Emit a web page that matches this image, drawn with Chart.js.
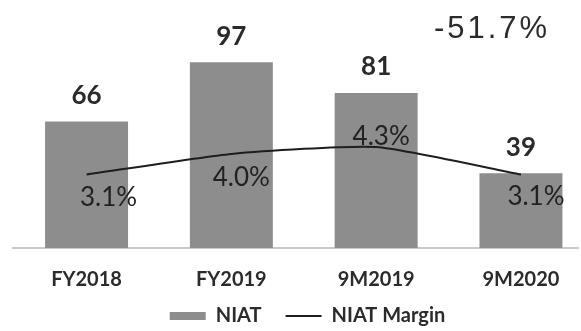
<!DOCTYPE html>
<html lang="en">
<head>
    <meta charset="utf-8" />
    <title>NIAT and NIAT Margin</title>
    <script src="https://cdn.jsdelivr.net/npm/chart.js@4.4.0/dist/chart.umd.min.js"></script>
    <style>
        html, body {
            margin: 0;
            padding: 0;
            background: #fff;
            overflow: hidden;
        }

        #wrap {
            position: relative;
            width: 581px;
            height: 336px;
        }
    </style>
</head>
<body>
    <div id="wrap">
        <canvas id="niatChart"></canvas>
    </div>

    <script>
        var periods = ["FY2018", "FY2019", "9M2019", "9M2020"];
        var niat = [66, 97, 81, 39];
        var niatMargin = [3.1, 4.0, 4.3, 3.1];
        var changeLabel = "-51.7%";

        // where each margin label sits relative to its point (px)
        var marginLabelShift = [[22, 23], [10, 24], [5, -10], [15, 22]];

        var textColor = "#2b2b2b";

        // writes the bar values, the margin % and the change figure
        var valueLabels = {
            id: "valueLabels",
            afterDatasetsDraw: function (chart) {
                var ctx = chart.ctx;
                var bars = chart.getDatasetMeta(0).data;
                var points = chart.getDatasetMeta(1).data;
                ctx.save();
                ctx.fillStyle = textColor;
                ctx.textAlign = "center";
                ctx.textBaseline = "middle";

                ctx.font = "bold 26px Lato";
                bars.forEach(function (bar, i) {
                    ctx.fillText(niat[i], bar.x, bar.y - 26);
                });

                ctx.fillStyle = "#222";
                ctx.font = "26px Lato";
                points.forEach(function (pt, i) {
                    ctx.fillText(niatMargin[i].toFixed(1) + "%",
                        pt.x + marginLabelShift[i][0], pt.y + marginLabelShift[i][1]);
                });

                ctx.fillStyle = textColor;
                ctx.font = "31px 'Liberation Sans'";
                ctx.letterSpacing = "3px";
                ctx.fillText(changeLabel, 492, 29);
                ctx.restore();
            }
        };

        // the x labels sit lower than the axis box, so open its clip downwards;
        // nudge the legend a little to the right
        var bottomTweaks = {
            id: "bottomTweaks",
            afterLayout: function (chart) {
                chart.scales.x.bottom = chart.height;
                chart.legend.left += 12;
                chart.legend.right += 12;
            }
        };

        var barData = niat.map(function (v, i) { return { x: i, y: v }; });
        var lineData = niatMargin.map(function (v, i) { return { x: i, y: v }; });

        new Chart(document.getElementById("niatChart"), {
            type: "bar",
            data: {
                datasets: [{
                    label: "NIAT",
                    data: barData,
                    backgroundColor: "#8d8d8d",
                    borderWidth: 0,
                    categoryPercentage: 0.573,
                    barPercentage: 1,
                    pointStyle: "rect",
                    yAxisID: "y",
                    order: 1
                }, {
                    type: "line",
                    label: "NIAT Margin",
                    data: lineData,
                    borderColor: "#1e1e1e",
                    backgroundColor: "#1e1e1e",
                    borderWidth: 2,
                    pointRadius: 0,
                    tension: 0.18,
                    pointStyle: "line",
                    yAxisID: "y2",
                    order: 0
                }]
            },
            options: {
                responsive: true,
                maintainAspectRatio: false,
                animation: false,
                layout: {
                    padding: { left: 13, right: 3, top: 0, bottom: 0 }
                },
                scales: {
                    x: {
                        type: "linear",
                        offset: false,
                        min: -0.508,
                        max: 3.394,
                        afterBuildTicks: function (scale) {
                            scale.ticks = periods.map(function (p, i) { return { value: i }; });
                        },
                        // labels may run into the legend's top padding
                        afterFit: function (scale) {
                            scale.height = 34;
                            scale.paddingLeft = 0;
                            scale.paddingRight = 0;
                        },
                        grid: { display: false, drawTicks: false },
                        border: { display: true, color: "#c9c9c9", width: 2 },
                        ticks: {
                            autoSkip: false,
                            maxRotation: 0,
                            padding: 27,
                            color: textColor,
                            font: { family: "Lato", weight: "bold", size: 20, lineHeight: 0.5 },
                            callback: function (value) { return periods[value]; }
                        }
                    },
                    y: {
                        display: false,
                        min: 0,
                        max: 129.5
                    },
                    y2: {
                        display: false,
                        position: "right",
                        min: -0.11,
                        max: 10.72
                    }
                },
                plugins: {
                    legend: {
                        position: "bottom",
                        labels: {
                            usePointStyle: true,
                            pointStyleWidth: 36,
                            boxHeight: 8,
                            padding: 24,
                            color: textColor,
                            font: { family: "Lato", weight: "bold", size: 20 },
                            sort: function (a, b) { return a.datasetIndex - b.datasetIndex; }
                        }
                    },
                    tooltip: { enabled: false }
                }
            },
            plugins: [valueLabels, bottomTweaks]
        });
    </script>
</body>
</html>
